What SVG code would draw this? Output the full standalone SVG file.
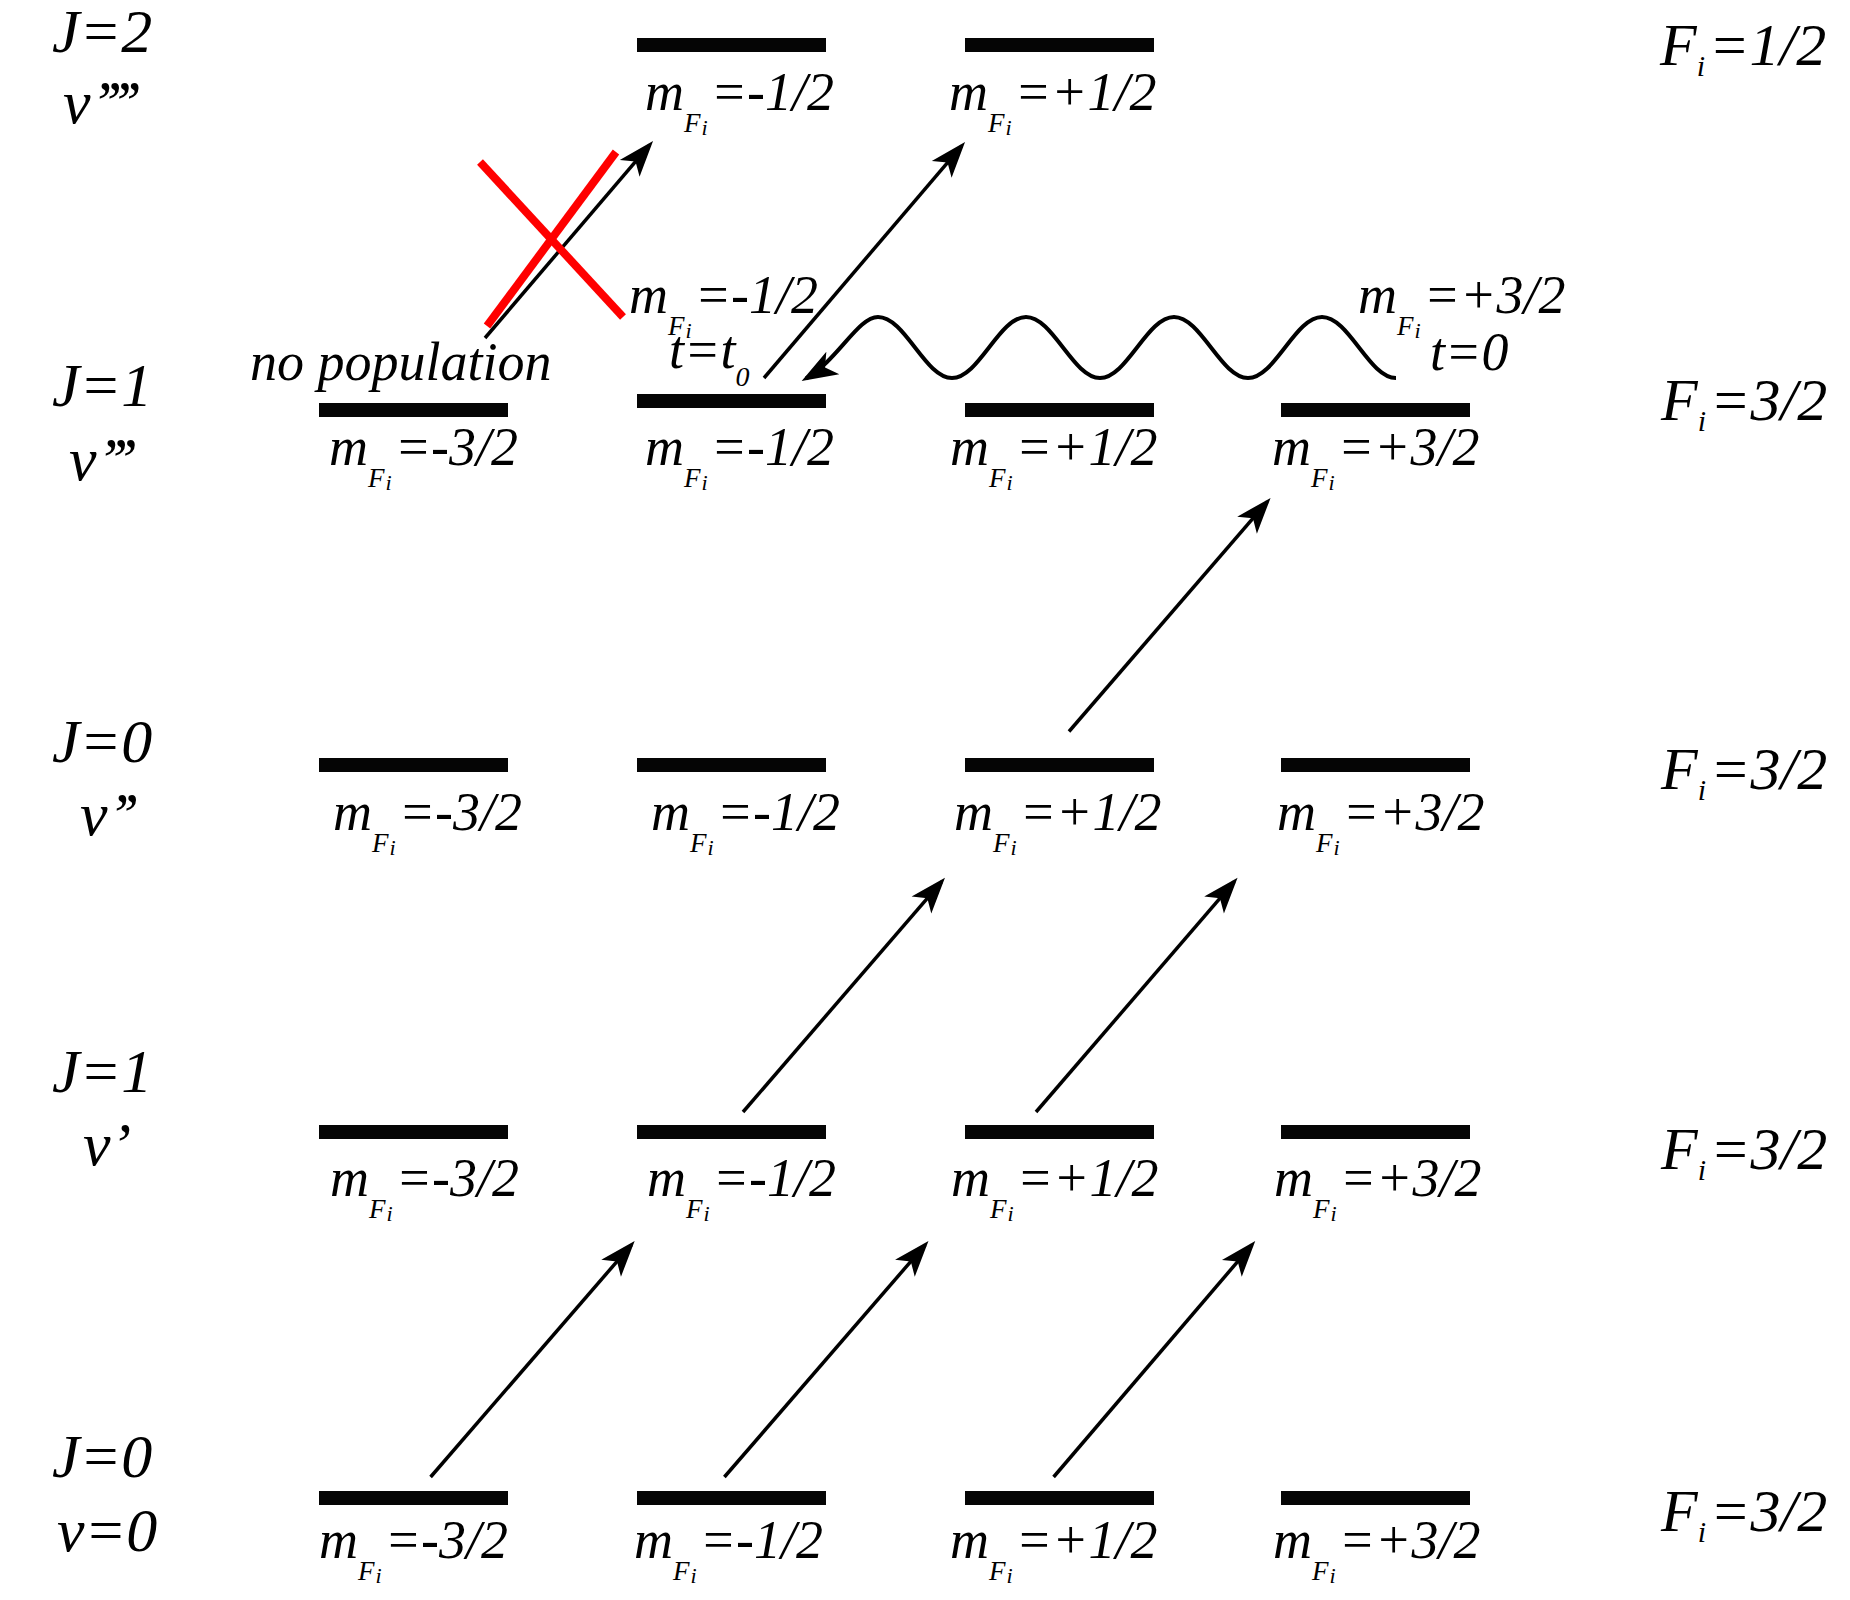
<svg xmlns="http://www.w3.org/2000/svg" width="1850" height="1600" viewBox="0 0 1850 1600">
<style>
  .tx { font-family: "Liberation Serif", "Times New Roman", serif; font-style: italic; fill: #000; }
  .m { font-size: 54px; }
  .s1 { font-size: 27px; }
  .s2 { font-size: 22px; }
  .s0 { font-size: 54px; }
  .J { font-size: 62px; }
  .pr { letter-spacing: -4px; }
  .F { font-size: 60px; }
  .fi { font-size: 30px; }
  .bar { fill: #050505; }
  .arr { fill: none; stroke: #000; stroke-width: 3.5; marker-end: url(#head); }
  .wave { fill: none; stroke: #000; stroke-width: 4; marker-end: url(#head); }
  .cross { stroke: #ff0000; stroke-width: 8; stroke-linecap: butt; }
</style>
<defs>
  <marker id="head" markerUnits="userSpaceOnUse" viewBox="-40 -20 50 40" markerWidth="50" markerHeight="40" refX="-5" refY="0" orient="auto" overflow="visible">
    <path d="M0,0 L-36,-13 L-27,0 L-36,13 Z" fill="#000"/>
  </marker>
</defs>
<rect width="1850" height="1600" fill="#fff"/>

<g class="tx">
<!-- left labels -->
<g id="left-labels">
  <text class="J" x="52" y="52">J=2</text>
  <text class="J" x="63" y="123">v<tspan class="pr">’’’’</tspan></text>
  <text class="J" x="52" y="406">J=1</text>
  <text class="J" x="69" y="480">v<tspan class="pr">’’’</tspan></text>
  <text class="J" x="52" y="762">J=0</text>
  <text class="J" x="80" y="835">v<tspan class="pr">’’</tspan></text>
  <text class="J" x="52" y="1092">J=1</text>
  <text class="J" x="83" y="1165">v’</text>
  <text class="J" x="52" y="1477">J=0</text>
  <text class="J" x="57" y="1551">v=0</text>
</g>

<!-- right labels -->
<g id="right-labels">
  <text class="F" x="1660" y="65">F<tspan class="fi" dy="11">i</tspan><tspan dx="4" dy="-11">=1/2</tspan></text>
  <text class="F" x="1661" y="420">F<tspan class="fi" dy="11">i</tspan><tspan dx="4" dy="-11">=3/2</tspan></text>
  <text class="F" x="1661" y="789">F<tspan class="fi" dy="11">i</tspan><tspan dx="4" dy="-11">=3/2</tspan></text>
  <text class="F" x="1661" y="1169">F<tspan class="fi" dy="11">i</tspan><tspan dx="4" dy="-11">=3/2</tspan></text>
  <text class="F" x="1661" y="1531">F<tspan class="fi" dy="11">i</tspan><tspan dx="4" dy="-11">=3/2</tspan></text>
</g>

<!-- J=2 v'''' level -->
<g id="J2-m-1-2">
  <rect class="bar" x="637" y="38" width="189" height="14"/>
  <text class="m" x="645" y="110">m<tspan class="s1" dy="22">F</tspan><tspan class="s2" dx="1" dy="3">i</tspan><tspan class="s0" dx="3" dy="-25">=-1/2</tspan></text>
</g>
<g id="J2-p-1-2">
  <rect class="bar" x="965" y="38" width="189" height="14"/>
  <text class="m" x="949" y="110">m<tspan class="s1" dy="22">F</tspan><tspan class="s2" dx="1" dy="3">i</tspan><tspan class="s0" dx="3" dy="-25">=+1/2</tspan></text>
</g>

<!-- J=1 v''' level -->
<g id="J1b-m-3-2">
  <rect class="bar" x="319" y="403" width="189" height="14"/>
  <text class="m" x="329" y="465">m<tspan class="s1" dy="22">F</tspan><tspan class="s2" dx="1" dy="3">i</tspan><tspan class="s0" dx="3" dy="-25">=-3/2</tspan></text>
</g>
<g id="J1b-m-1-2">
  <rect class="bar" x="637" y="394" width="189" height="14"/>
  <text class="m" x="645" y="465">m<tspan class="s1" dy="22">F</tspan><tspan class="s2" dx="1" dy="3">i</tspan><tspan class="s0" dx="3" dy="-25">=-1/2</tspan></text>
</g>
<g id="J1b-p-1-2">
  <rect class="bar" x="965" y="403" width="189" height="14"/>
  <text class="m" x="950" y="465">m<tspan class="s1" dy="22">F</tspan><tspan class="s2" dx="1" dy="3">i</tspan><tspan class="s0" dx="3" dy="-25">=+1/2</tspan></text>
</g>
<g id="J1b-p-3-2">
  <rect class="bar" x="1281" y="403" width="189" height="14"/>
  <text class="m" x="1272" y="465">m<tspan class="s1" dy="22">F</tspan><tspan class="s2" dx="1" dy="3">i</tspan><tspan class="s0" dx="3" dy="-25">=+3/2</tspan></text>
</g>

<!-- J=0 v'' level -->
<g id="J0b-m-3-2">
  <rect class="bar" x="319" y="758" width="189" height="14"/>
  <text class="m" x="333" y="830">m<tspan class="s1" dy="22">F</tspan><tspan class="s2" dx="1" dy="3">i</tspan><tspan class="s0" dx="3" dy="-25">=-3/2</tspan></text>
</g>
<g id="J0b-m-1-2">
  <rect class="bar" x="637" y="758" width="189" height="14"/>
  <text class="m" x="651" y="830">m<tspan class="s1" dy="22">F</tspan><tspan class="s2" dx="1" dy="3">i</tspan><tspan class="s0" dx="3" dy="-25">=-1/2</tspan></text>
</g>
<g id="J0b-p-1-2">
  <rect class="bar" x="965" y="758" width="189" height="14"/>
  <text class="m" x="954" y="830">m<tspan class="s1" dy="22">F</tspan><tspan class="s2" dx="1" dy="3">i</tspan><tspan class="s0" dx="3" dy="-25">=+1/2</tspan></text>
</g>
<g id="J0b-p-3-2">
  <rect class="bar" x="1281" y="758" width="189" height="14"/>
  <text class="m" x="1277" y="830">m<tspan class="s1" dy="22">F</tspan><tspan class="s2" dx="1" dy="3">i</tspan><tspan class="s0" dx="3" dy="-25">=+3/2</tspan></text>
</g>

<!-- J=1 v' level -->
<g id="J1a-m-3-2">
  <rect class="bar" x="319" y="1125" width="189" height="14"/>
  <text class="m" x="330" y="1196">m<tspan class="s1" dy="22">F</tspan><tspan class="s2" dx="1" dy="3">i</tspan><tspan class="s0" dx="3" dy="-25">=-3/2</tspan></text>
</g>
<g id="J1a-m-1-2">
  <rect class="bar" x="637" y="1125" width="189" height="14"/>
  <text class="m" x="647" y="1196">m<tspan class="s1" dy="22">F</tspan><tspan class="s2" dx="1" dy="3">i</tspan><tspan class="s0" dx="3" dy="-25">=-1/2</tspan></text>
</g>
<g id="J1a-p-1-2">
  <rect class="bar" x="965" y="1125" width="189" height="14"/>
  <text class="m" x="951" y="1196">m<tspan class="s1" dy="22">F</tspan><tspan class="s2" dx="1" dy="3">i</tspan><tspan class="s0" dx="3" dy="-25">=+1/2</tspan></text>
</g>
<g id="J1a-p-3-2">
  <rect class="bar" x="1281" y="1125" width="189" height="14"/>
  <text class="m" x="1274" y="1196">m<tspan class="s1" dy="22">F</tspan><tspan class="s2" dx="1" dy="3">i</tspan><tspan class="s0" dx="3" dy="-25">=+3/2</tspan></text>
</g>

<!-- J=0 v=0 level -->
<g id="J0a-m-3-2">
  <rect class="bar" x="319" y="1491" width="189" height="14"/>
  <text class="m" x="319" y="1558">m<tspan class="s1" dy="22">F</tspan><tspan class="s2" dx="1" dy="3">i</tspan><tspan class="s0" dx="3" dy="-25">=-3/2</tspan></text>
</g>
<g id="J0a-m-1-2">
  <rect class="bar" x="637" y="1491" width="189" height="14"/>
  <text class="m" x="634" y="1558">m<tspan class="s1" dy="22">F</tspan><tspan class="s2" dx="1" dy="3">i</tspan><tspan class="s0" dx="3" dy="-25">=-1/2</tspan></text>
</g>
<g id="J0a-p-1-2">
  <rect class="bar" x="965" y="1491" width="189" height="14"/>
  <text class="m" x="950" y="1558">m<tspan class="s1" dy="22">F</tspan><tspan class="s2" dx="1" dy="3">i</tspan><tspan class="s0" dx="3" dy="-25">=+1/2</tspan></text>
</g>
<g id="J0a-p-3-2">
  <rect class="bar" x="1281" y="1491" width="189" height="14"/>
  <text class="m" x="1273" y="1558">m<tspan class="s1" dy="22">F</tspan><tspan class="s2" dx="1" dy="3">i</tspan><tspan class="s0" dx="3" dy="-25">=+3/2</tspan></text>
</g>

<!-- annotations -->
<g id="annotations">
  <text class="m" x="250" y="380">no population</text>
  <text class="m" x="629" y="313">m<tspan class="s1" dy="22">F</tspan><tspan class="s2" dx="1" dy="3">i</tspan><tspan class="s0" dx="3" dy="-25">=-1/2</tspan></text>
  <text class="m" x="669" y="368">t=t<tspan font-size="28" dy="18">0</tspan></text>
  <text class="m" x="1358" y="313">m<tspan class="s1" dy="22">F</tspan><tspan class="s2" dx="1" dy="3">i</tspan><tspan class="s0" dx="3" dy="-25">=+3/2</tspan></text>
  <text class="m" x="1430" y="370">t=0</text>
</g>
</g>

<!-- connectors -->
<g id="connectors">
  <path class="arr" d="M430.6,1477 L631.4,1244.8"/>
  <path class="arr" d="M724.4,1477 L925.2,1244.8"/>
  <path class="arr" d="M1053.6,1477 L1252,1244.8"/>
  <path class="arr" d="M743,1112 L941.7,881.6"/>
  <path class="arr" d="M1036,1112 L1234.3,881.6"/>
  <path class="arr" d="M1069,731.5 L1267.3,501.7"/>
  <path class="arr" d="M764,378 L961.8,145.8"/>
  <path class="arr" d="M485,338 L649.8,144.8"/>
  <path class="wave" d="M1396,378 C1369,378 1349,317 1322,317 C1295,317 1275,378 1248,378 C1221,378 1201,317 1174,317 C1147,317 1127,378 1100,378 C1073,378 1053,317 1026,317 C999,317 979,378 952,378 C925,378 905,317 878,317 C858,317 838,360 806,378.5"/>
  <g id="forbidden">
    <line class="cross" x1="480" y1="162" x2="623" y2="317"/>
    <line class="cross" x1="487" y1="326" x2="616" y2="152"/>
  </g>
</g>
</svg>
